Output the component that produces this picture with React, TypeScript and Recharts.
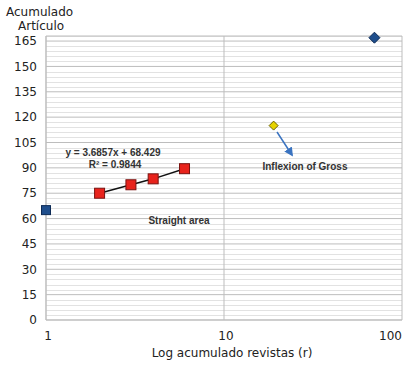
import React from 'react';
import { ScatterChart, Scatter, XAxis, YAxis, CartesianGrid } from 'recharts';

// values
const firstPoint = [{ r: 1, a: 65 }];
const straightArea = [
  { r: 2, a: 75 },
  { r: 3, a: 80 },
  { r: 4, a: 83.5 },
  { r: 6, a: 89.5 },
];
const inflexion = [{ r: 19, a: 115 }];
const lastPoint = [{ r: 70, a: 167 }];

const xTicks = [1, 10, 100];
const yTicks = [0, 15, 30, 45, 60, 75, 90, 105, 120, 135, 150, 165];
const Y_MAX = 168;
// minor gridlines every 3 units, skipping the major ones
const yMinor = Array.from({ length: 57 }, (_, i) => i * 3).filter((v) => v % 15 !== 0);

const W = 411;
const H = 370;
const MARGIN = { top: 36, right: 9, left: 0, bottom: 0 };
const Y_AXIS_W = 46;
const X_AXIS_H = 50;
const PLOT_X = MARGIN.left + Y_AXIS_W;
const PLOT_W = W - MARGIN.right - PLOT_X;
const PLOT_H = H - MARGIN.top - MARGIN.bottom - X_AXIS_H;

const FONT = '"DejaVu Sans", Verdana, sans-serif';
const NOTE_FONT = '"Liberation Sans Narrow", "Liberation Sans", Arial, sans-serif';

type ShapeProps = { cx?: number; cy?: number };

function Square({ cx = 0, cy = 0, fill, stroke, size }: ShapeProps & { fill: string; stroke: string; size: number }) {
  return (
    <rect x={cx - size / 2} y={cy - size / 2} width={size} height={size} fill={fill} stroke={stroke} strokeWidth={1} />
  );
}

function Diamond({ cx = 0, cy = 0, fill, stroke, size }: ShapeProps & { fill: string; stroke: string; size: number }) {
  const h = size / 2;
  return (
    <polygon
      points={`${cx},${cy - h} ${cx + h},${cy} ${cx},${cy + h} ${cx - h},${cy}`}
      fill={fill}
      stroke={stroke}
      strokeWidth={1}
    />
  );
}

function XTick({ x = 0, y = 0, payload }: { x?: number; y?: number; payload?: { value: number } }) {
  const v = payload?.value ?? 0;
  const last = v === 100;
  return (
    <text
      x={last ? x + 3 : x + 2}
      y={y + 12}
      textAnchor={last ? 'end' : 'middle'}
      fontSize={12}
      fontFamily={FONT}
      fill="#222"
    >
      {v}
    </text>
  );
}

export default function App() {
  return (
    <div style={{ position: 'relative', width: W, height: H, background: '#fff', fontFamily: FONT }}>
      <style>{'body{margin:0}'}</style>

      {/* minor gridlines, underneath the chart */}
      <svg width={W} height={H} style={{ position: 'absolute', left: 0, top: 0 }}>
        {yMinor.map((v) => {
          const y = Math.round(MARGIN.top + PLOT_H * (1 - v / Y_MAX)) + 0.5;
          return <line key={v} x1={PLOT_X} x2={PLOT_X + PLOT_W} y1={y} y2={y} stroke="#e2e2e2" strokeWidth={1} />;
        })}
      </svg>

      <div style={{ position: 'absolute', left: 0, top: 0 }}>
        <ScatterChart width={W} height={H} margin={MARGIN}>
          <CartesianGrid stroke="#bdbdbd" strokeWidth={1} />
          <XAxis
            type="number"
            dataKey="r"
            scale="log"
            domain={[1, 100]}
            ticks={xTicks}
            height={X_AXIS_H}
            axisLine={{ stroke: '#bdbdbd' }}
            tickLine={false}
            tick={<XTick />}
          />
          <YAxis
            type="number"
            dataKey="a"
            domain={[0, Y_MAX]}
            ticks={yTicks}
            interval={0}
            width={Y_AXIS_W}
            axisLine={{ stroke: '#bdbdbd' }}
            tickLine={false}
            tickSize={0}
            tickMargin={9}
            tick={{ fontSize: 12, fill: '#222', fontFamily: FONT }}
          />
          <Scatter
            data={firstPoint}
            isAnimationActive={false}
            shape={(p: ShapeProps) => <Square {...p} fill="#1f4e8c" stroke="#0d2a55" size={9} />}
          />
          <Scatter
            data={straightArea}
            isAnimationActive={false}
            line={{ stroke: '#111', strokeWidth: 1.5 }}
            lineType="joint"
            shape={(p: ShapeProps) => <Square {...p} fill="#e8231c" stroke="#7a1210" size={10} />}
          />
          <Scatter
            data={inflexion}
            isAnimationActive={false}
            shape={(p: ShapeProps) => <Diamond {...p} fill="#e6d300" stroke="#6b6200" size={9} />}
          />
          <Scatter
            data={lastPoint}
            isAnimationActive={false}
            shape={(p: ShapeProps) => <Diamond {...p} fill="#1f4e8c" stroke="#0d2a55" size={11} />}
          />
        </ScatterChart>
      </div>

      <svg width={W} height={H} style={{ position: 'absolute', left: 0, top: 0, pointerEvents: 'none' }}>
        <defs>
          <marker id="arrowHead" viewBox="0 0 10 10" refX="8" refY="5" markerWidth="6" markerHeight="6" orient="auto">
            <path d="M0,0 L10,5 L0,10 z" fill="#3a73c0" />
          </marker>
        </defs>
        <text x={6} y={16} fontSize={12} fontFamily={FONT} fill="#222">Acumulado</text>
        <text x={18} y={30} fontSize={12} fontFamily={FONT} fill="#222">Artículo</text>
        <text x={113} y={156} textAnchor="middle" fontSize={10} fontWeight="bold" fontFamily={NOTE_FONT} fill="#333">
          y = 3.6857x + 68.429
        </text>
        <text x={115} y={168} textAnchor="middle" fontSize={10} fontWeight="bold" fontFamily={NOTE_FONT} fill="#333">
          R² = 0.9844
        </text>
        <text x={179} y={224} textAnchor="middle" fontSize={10} fontWeight="bold" fontFamily={NOTE_FONT} fill="#333">
          Straight area
        </text>
        <text x={305} y={170} textAnchor="middle" fontSize={10} fontWeight="bold" fontFamily={NOTE_FONT} fill="#333">
          Inflexion of Gross
        </text>
        <line x1={277} y1={132} x2={292} y2={155} stroke="#3a73c0" strokeWidth={1.5} markerEnd="url(#arrowHead)" />
        <text x={232} y={357} textAnchor="middle" fontSize={12} fontFamily={FONT} fill="#222">
          Log acumulado revistas (r)
        </text>
      </svg>
    </div>
  );
}
